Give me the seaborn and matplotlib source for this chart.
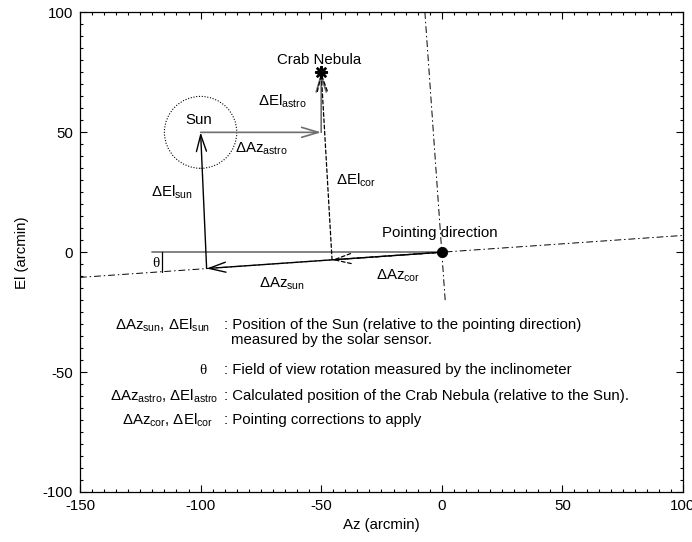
import numpy as np
import matplotlib
matplotlib.use("Agg")
import matplotlib.pyplot as plt
import seaborn as sns

# geometry (arcmin)
pointing = (0.0, 0.0)
sun = (-100.0, 50.0)
crab = (-50.0, 75.0)
astro_corner = (-50.0, 50.0)
sun_foot = (-97.5, -6.8)      # end of dAz_sun along the rotated axis
cor_foot = (-45.5, -3.2)      # end of dAz_cor along the rotated axis
tilt_x = [-150.0, 100.0]
tilt_y = [-10.5, 7.0]
perp_x = [1.4, -7.0]
perp_y = [-20.0, 100.0]
horiz_x = [-120.0, 0.0]
theta_x = -116.0
theta_y = [0.0, -8.1]
sun_radius = 15.0

legend_keys = [
    r"ΔAz$_{\mathrm{sun}}$, ΔEl$_{\mathrm{sun}}$",
    "θ",
    r"ΔAz$_{\mathrm{astro}}$, ΔEl$_{\mathrm{astro}}$",
    r"ΔAz$_{\mathrm{cor}}$, ΔEl$_{\mathrm{cor}}$",
]
legend_key_x = [-96.2, -97.4, -92.5, -95.0]
legend_text = [
    ": Position of the Sun (relative to the pointing direction)",
    ": Field of view rotation measured by the inclinometer",
    ": Calculated position of the Crab Nebula (relative to the Sun).",
    ": Pointing corrections to apply",
]
legend_y = [-30.4, -49.2, -60.0, -70.0]

sns.set_theme(style="ticks")
plt.rcParams["font.family"] = ["Liberation Sans", "DejaVu Sans"]
plt.rcParams["mathtext.fontset"] = "custom"
plt.rcParams["mathtext.rm"] = "Liberation Sans"
plt.rcParams["mathtext.it"] = "Liberation Sans:italic"
plt.rcParams["axes.unicode_minus"] = False
plt.rcParams["text.color"] = "black"
plt.rcParams["axes.labelcolor"] = "black"
plt.rcParams["xtick.labelcolor"] = "black"
plt.rcParams["ytick.labelcolor"] = "black"

fs = 10.8

fig = plt.figure(figsize=(6.92, 5.42), dpi=100)
ax = fig.add_axes([0.1156, 0.0923, 0.8714, 0.8847])

gray = "#6e6e6e"
dashdot = (0, (7, 3, 1.5, 3))

# reference frame lines
ax.plot(tilt_x, tilt_y, color="black", lw=0.7, ls=dashdot)
ax.plot(perp_x, perp_y, color="black", lw=0.7, ls=dashdot)
ax.plot(horiz_x, [0, 0], color=gray, lw=1.2)
ax.plot([theta_x, theta_x], theta_y, color="black", lw=0.9)

# field of view of the sun
ax.add_patch(plt.Circle(sun, sun_radius, fill=False, ls=(0, (1, 1.5)), lw=0.8, color="black"))


def arrow(start, end, color="black", ls="-", lw=1.0):
    ax.annotate("", xy=end, xytext=start,
                arrowprops=dict(arrowstyle="->,head_length=1.0,head_width=0.3",
                                color=color, lw=lw, ls=ls,
                                shrinkA=0, shrinkB=0))


arrow(pointing, sun_foot)
arrow(sun_foot, sun)
arrow(sun, astro_corner, color=gray, lw=1.2)
arrow(astro_corner, crab, color=gray, lw=1.2)
arrow(pointing, cor_foot, ls=(0, (3, 2)), lw=0.9)
arrow(cor_foot, crab, ls=(0, (3, 2)), lw=0.9)

# markers
sns.scatterplot(x=[pointing[0]], y=[pointing[1]], ax=ax, color="black", s=55, zorder=5, edgecolor="black")
sns.scatterplot(x=[crab[0]], y=[crab[1]], ax=ax, color="black", marker=(8, 2, 0), s=60, linewidth=1.8, zorder=5)

# labels
serif = ["Liberation Serif", "DejaVu Serif"]
ax.text(-50.8, 80, "Crab Nebula", ha="center", va="center", fontsize=fs)
ax.text(-100.7, 55, "Sun", ha="center", va="center", fontsize=fs)
ax.text(-66.3, 62.8, r"ΔEl$_{\mathrm{astro}}$", ha="center", va="center", fontsize=fs)
ax.text(-74.8, 43, r"ΔAz$_{\mathrm{astro}}$", ha="center", va="center", fontsize=fs)
ax.text(-35.5, 30, r"ΔEl$_{\mathrm{cor}}$", ha="center", va="center", fontsize=fs)
ax.text(-112, 25, r"ΔEl$_{\mathrm{sun}}$", ha="center", va="center", fontsize=fs)
ax.text(-0.8, 8, "Pointing direction", ha="center", va="center", fontsize=fs)
ax.text(-66.1, -13, r"ΔAz$_{\mathrm{sun}}$", ha="center", va="center", fontsize=fs)
ax.text(-18.2, -10, r"ΔAz$_{\mathrm{cor}}$", ha="center", va="center", fontsize=fs)
ax.text(-118.6, -4.6, "θ", ha="center", va="center", fontsize=fs, family=serif)

# explanation block
for key, kx, txt, y in zip(legend_keys, legend_key_x, legend_text, legend_y):
    fam = serif if key == "θ" else None
    ax.text(kx, y, key, ha="right", va="center", fontsize=fs, family=fam)
    ax.text(-90.4, y, txt, ha="left", va="center", fontsize=fs)
ax.text(-87.5, -36.8, "measured by the solar sensor.", ha="left", va="center", fontsize=fs)

ax.set_xlim(-150, 100)
ax.set_ylim(-100, 100)
ax.set_xticks(np.arange(-150, 101, 50))
ax.set_yticks(np.arange(-100, 101, 50))
ax.set_xticks(np.arange(-150, 101, 5), minor=True)
ax.set_yticks(np.arange(-100, 101, 5), minor=True)
ax.tick_params(which="both", direction="in", top=True, right=True, color="black", width=0.8)
ax.tick_params(which="major", length=5, labelsize=fs, pad=5)
ax.tick_params(which="minor", length=2.5)
for s in ax.spines.values():
    s.set_color("black")
    s.set_linewidth(0.9)
ax.set_xlabel("Az (arcmin)", fontsize=fs, labelpad=4)
ax.set_ylabel("El (arcmin)", fontsize=fs, labelpad=10)

fig.savefig("out.png", dpi=100)
